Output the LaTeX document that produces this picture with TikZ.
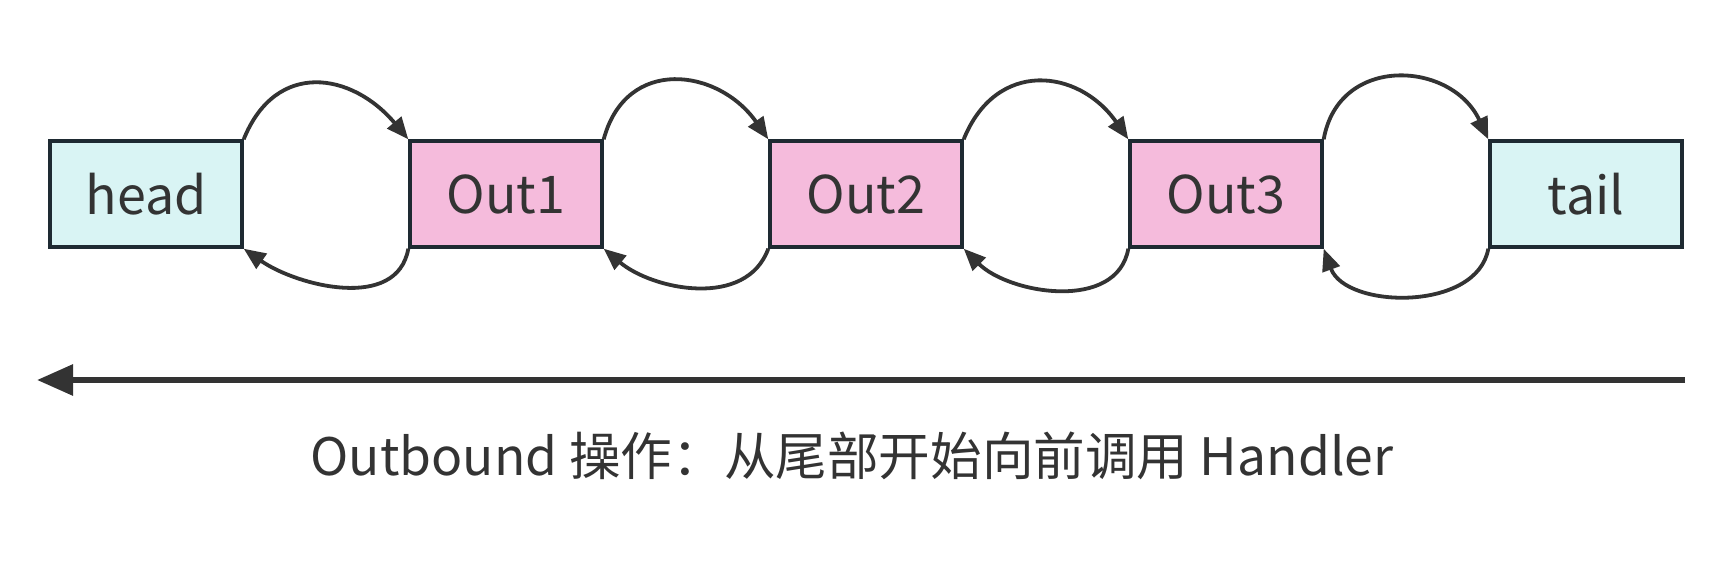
\documentclass[tikz,border=0pt]{standalone}
\usepackage{fontspec}
\setmainfont{Noto Sans CJK SC}
\usetikzlibrary{positioning,arrows.meta}
\definecolor{endfill}{HTML}{D9F4F4}
\definecolor{outfill}{HTML}{F5BBDC}
\definecolor{boxline}{HTML}{1E2A32}
\definecolor{arrowgray}{HTML}{333333}
\tikzset{
	handler/.style={draw=boxline, line width=1.7pt, minimum width=96pt, minimum height=53pt,
		inner sep=0pt, font=\fontsize{26}{30}\selectfont, text=arrowgray},
	endbox/.style={handler, fill=endfill},
	outbox/.style={handler, fill=outfill},
	link/.style={draw=arrowgray, line width=1.9pt, -{Triangle[length=11pt,width=9pt]}}
}

\begin{document}
\begin{tikzpicture}[x=0.5pt,y=-0.5pt]
	\useasboundingbox (0,0) rectangle (1736,561);
	\node [endbox] at (146,194) (head) {head};
	\node [outbox, right=82.3pt of head] (out1) {Out1};
	\node [outbox, right=82.3pt of out1] (out2) {Out2};
	\node [outbox, right=82.3pt of out2] (out3) {Out3};
	\node [endbox, right=82.3pt of out3] (tail) {tail};
	\draw [link] (head.north east) to[out=68,in=130,looseness=1.35] (out1.north west);
	\draw [link] (out1.north east) to[out=75,in=125,looseness=1.35] (out2.north west);
	\draw [link] (out2.north east) to[out=68,in=125,looseness=1.35] (out3.north west);
	\draw [link] (out3.north east) to[out=80,in=115,looseness=1.35] (tail.north west);
	\draw [link] (out1.south west) to[out=-100,in=-35] (head.south east);
	\draw [link] (out2.south west) to[out=-110,in=-40] (out1.south east);
	\draw [link] (out3.south west) to[out=-100,in=-45] (out2.south east);
	\draw [link] (tail.south west) to[out=-100,in=-70] (out3.south east);
	\coordinate (flowR) at (1685,380);
	\coordinate (flowL) at (37,380);
	\draw [draw=arrowgray, line width=3pt, -{Triangle[length=18pt,width=15pt]}] (flowR) -- (flowL);
	\node [font=\fontsize{25.8}{30}\selectfont, text=arrowgray] (caption) at (852,456)
		{Outbound 操作：从尾部开始向前调用 Handler};
\end{tikzpicture}
\end{document}
